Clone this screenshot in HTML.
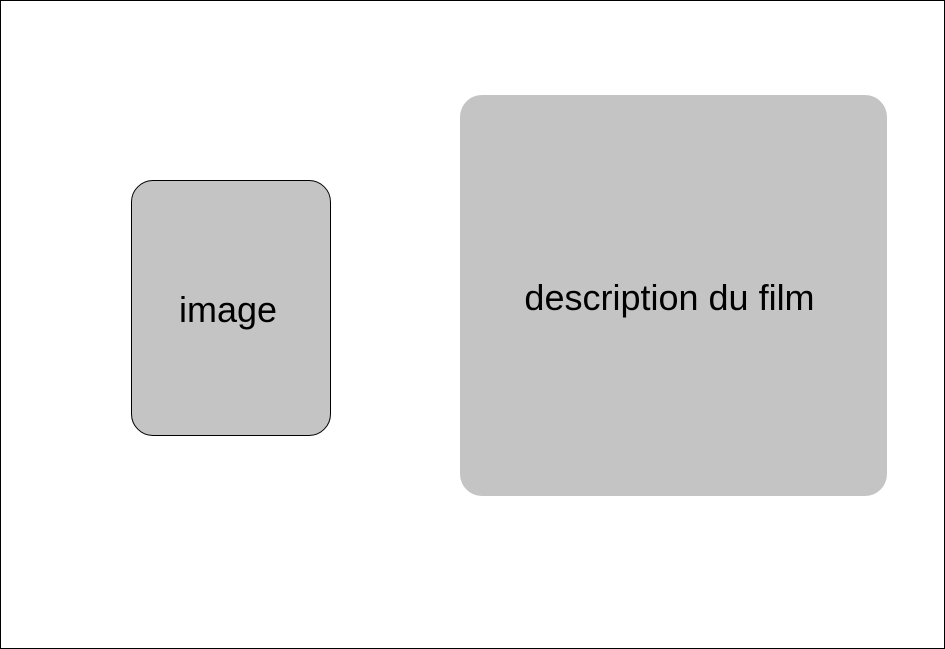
<!DOCTYPE html>
<html>
<head>
<meta charset="utf-8">
<style>
  html, body { margin: 0; padding: 0; background: #fff; }
  #frame {
    position: relative; width: 943px; height: 647px;
    border: 1px solid #000; background: #fff; overflow: hidden;
    font-family: "Liberation Sans", "DejaVu Sans", sans-serif;
  }
  .box {
    position: absolute; background: #c4c4c4;
    display: flex; align-items: center; justify-content: center;
    color: #000; font-size: 36px;
  }
  #image-box {
    left: 130px; top: 179px; width: 198px; height: 254px;
    border: 1px solid #000; border-radius: 22px;
  }
  #desc-box {
    left: 459px; top: 94px; width: 427px; height: 401px;
    border-radius: 22px;
  }
  #image-box span { position: relative; top: 2px; left: -3px; }
  #desc-box span { position: relative; top: 2px; left: -4px; }
</style>
</head>
<body>
<div id="frame">
  <div id="image-box" class="box">
    <span>image</span>
  </div>
  <div id="desc-box" class="box">
    <span>description du film</span>
  </div>
</div>
</body>
</html>
